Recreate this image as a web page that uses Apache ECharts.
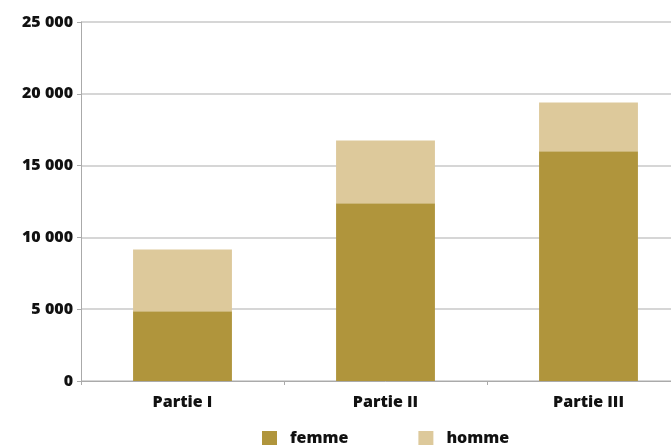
<!DOCTYPE html>
<html>
<head>
<meta charset="utf-8">
<script src="https://cdn.jsdelivr.net/npm/echarts@6/dist/echarts.min.js"></script>
<style>
  html, body { margin: 0; padding: 0; background: #fff; overflow: hidden; }
  /* le graphique d'origine est rogné à droite : le conteneur déborde de la fenêtre */
  #main { width: 690px; height: 445px; }
</style>
</head>
<body>
<div id="main"></div>
<script>
// données
var categories = ["Partie I", "Partie II", "Partie III"];
var femme = [4860, 12380, 16000];
var homme = [4290, 4360, 3400];
var yTicks = [0, 5000, 10000, 15000, 20000, 25000];

var chart = echarts.init(document.getElementById("main"));
var font = "'Open Sans', 'Noto Sans', sans-serif";

chart.setOption({
  animation: false,
  color: ["#b0953c", "#ddc99b"],
  textStyle: { fontFamily: font },
  legend: {
    data: ["femme", "homme"],
    top: 430,
    left: 262,
    padding: 0,
    itemWidth: 15,
    itemHeight: 14,
    itemGap: 70,
    icon: "rect",
    textStyle: {
      fontSize: 16,
      fontWeight: 800,
      color: "#111",
      fontFamily: font,
      padding: [0, 0, 0, 8]
    }
  },
  grid: {
    left: 81,
    right: 0,
    top: 22,
    bottom: 64
  },
  xAxis: {
    type: "category",
    data: categories,
    axisLine: { lineStyle: { color: "#aaa" } },
    axisTick: { show: true, length: 4, lineStyle: { color: "#aaa" } },
    axisLabel: { fontSize: 16, fontWeight: 800, color: "#111", margin: 13, fontFamily: font }
  },
  yAxis: {
    type: "value",
    min: yTicks[0],
    max: yTicks[yTicks.length - 1],
    interval: 5000,
    axisLine: { show: true, lineStyle: { color: "#aaa" } },
    axisTick: { show: true, length: 4, lineStyle: { color: "#aaa" } },
    splitLine: { lineStyle: { color: "#c8c8c8", width: 1.5 } },
    axisLabel: {
      fontSize: 16,
      fontWeight: 800,
      color: "#111",
      margin: 8,
      fontFamily: font,
      formatter: function (v) {
        return String(v).replace(/\B(?=(\d{3})+(?!\d))/g, " ");
      }
    }
  },
  series: [
    {
      name: "femme",
      type: "bar",
      stack: "total",
      barWidth: "48.7%",
      data: femme
    },
    {
      name: "homme",
      type: "bar",
      stack: "total",
      barWidth: "48.7%",
      data: homme
    }
  ]
});
</script>
</body>
</html>
